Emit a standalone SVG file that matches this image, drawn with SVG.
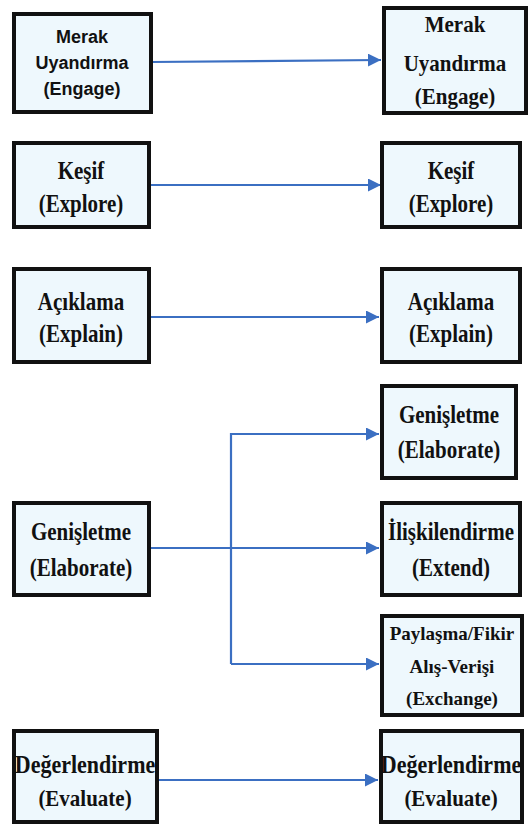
<svg xmlns="http://www.w3.org/2000/svg" width="528" height="828" viewBox="0 0 528 828">
<style>
.box{fill:#eef8fd;stroke:#111;stroke-width:4}
.t{font-family:"Liberation Serif","Times New Roman",serif;font-weight:bold;font-size:21px;fill:#111;text-anchor:middle}
.s{font-family:"Liberation Sans",Arial,sans-serif;font-weight:bold;font-size:18px;fill:#111;text-anchor:middle}
.c{fill:none;stroke:#3b6fc2;stroke-width:2.2}
</style>
<defs>
<marker id="ah" markerWidth="13" markerHeight="13" refX="10" refY="5" orient="auto" markerUnits="userSpaceOnUse" viewBox="0 0 10 10">
<path d="M0,0 L10,5 L0,10 Z" fill="#3b6fc2"/>
</marker>
</defs>
<rect width="528" height="828" fill="#fff"/>
<g id="connectors">
<path class="c" d="M151,62 L381,60" marker-end="url(#ah)"/>
<path class="c" d="M149,185 L381,185" marker-end="url(#ah)"/>
<path class="c" d="M149,317 L379,317" marker-end="url(#ah)"/>
<path class="c" d="M149,548 L379,548" marker-end="url(#ah)"/>
<path class="c" d="M231,664 L231,434 L379,434" marker-end="url(#ah)"/>
<path class="c" d="M231,664 L379,664" marker-end="url(#ah)"/>
<path class="c" d="M157,780 L378,780" marker-end="url(#ah)"/>
</g>
<g id="engage-l"><rect class="box" x="14" y="14" width="137" height="98"/>
<text class="s" x="82" y="43">Merak</text><text class="s" x="82" y="69">Uyandırma</text><text class="s" x="82" y="95">(Engage)</text></g>
<g id="engage-r"><rect class="box" x="384" y="8" width="142" height="105"/>
<text class="t" transform="translate(455,32) scale(1,1.12)">Merak</text><text class="t" transform="translate(455,71) scale(1,1.12)">Uyandırma</text><text class="t" transform="translate(455,104) scale(1,1.12)">(Engage)</text></g>
<g id="explore-l"><rect class="box" x="14" y="143" width="135" height="84"/>
<text class="t" transform="translate(81,179) scale(1,1.18)">Keşif</text><text class="t" transform="translate(81,212) scale(1,1.18)">(Explore)</text></g>
<g id="explore-r"><rect class="box" x="382" y="143" width="138" height="84"/>
<text class="t" transform="translate(451,179) scale(1,1.18)">Keşif</text><text class="t" transform="translate(451,212) scale(1,1.18)">(Explore)</text></g>
<g id="explain-l"><rect class="box" x="14" y="269" width="135" height="93"/>
<text class="t" transform="translate(81,310) scale(1,1.18)">Açıklama</text><text class="t" transform="translate(81,342) scale(1,1.18)">(Explain)</text></g>
<g id="explain-r"><rect class="box" x="382" y="269" width="138" height="93"/>
<text class="t" transform="translate(451,310) scale(1,1.18)">Açıklama</text><text class="t" transform="translate(451,342) scale(1,1.18)">(Explain)</text></g>
<g id="elaborate-r"><rect class="box" x="382" y="386" width="134" height="92"/>
<text class="t" transform="translate(449,423) scale(1,1.18)">Genişletme</text><text class="t" transform="translate(449,458) scale(1,1.18)">(Elaborate)</text></g>
<g id="elaborate-l"><rect class="box" x="14" y="503" width="135" height="92"/>
<text class="t" transform="translate(81,540) scale(1,1.18)">Genişletme</text><text class="t" transform="translate(81,576) scale(1,1.18)">(Elaborate)</text></g>
<g id="extend-r"><rect class="box" x="382" y="503" width="138" height="92"/>
<text class="t" transform="translate(451,540) scale(1,1.18)">İlişkilendirme</text><text class="t" transform="translate(451,576) scale(1,1.18)">(Extend)</text></g>
<g id="exchange-r"><rect class="box" x="382" y="616" width="140" height="99"/>
<text class="t" x="452" y="640" style="font-size:19px">Paylaşma/Fikir</text><text class="t" x="452" y="673" style="font-size:19px">Alış-Verişi</text><text class="t" x="452" y="705" style="font-size:19px">(Exchange)</text></g>
<g id="evaluate-l"><rect class="box" x="14" y="731" width="143" height="91"/>
<text class="t" transform="translate(85,773) scale(1,1.12)" style="font-size:22px">Değerlendirme</text><text class="t" transform="translate(85,806) scale(1,1.12)">(Evaluate)</text></g>
<g id="evaluate-r"><rect class="box" x="381" y="731" width="141" height="91"/>
<text class="t" transform="translate(451,773) scale(1,1.12)" style="font-size:22px">Değerlendirme</text><text class="t" transform="translate(451,806) scale(1,1.12)">(Evaluate)</text></g>
</svg>
